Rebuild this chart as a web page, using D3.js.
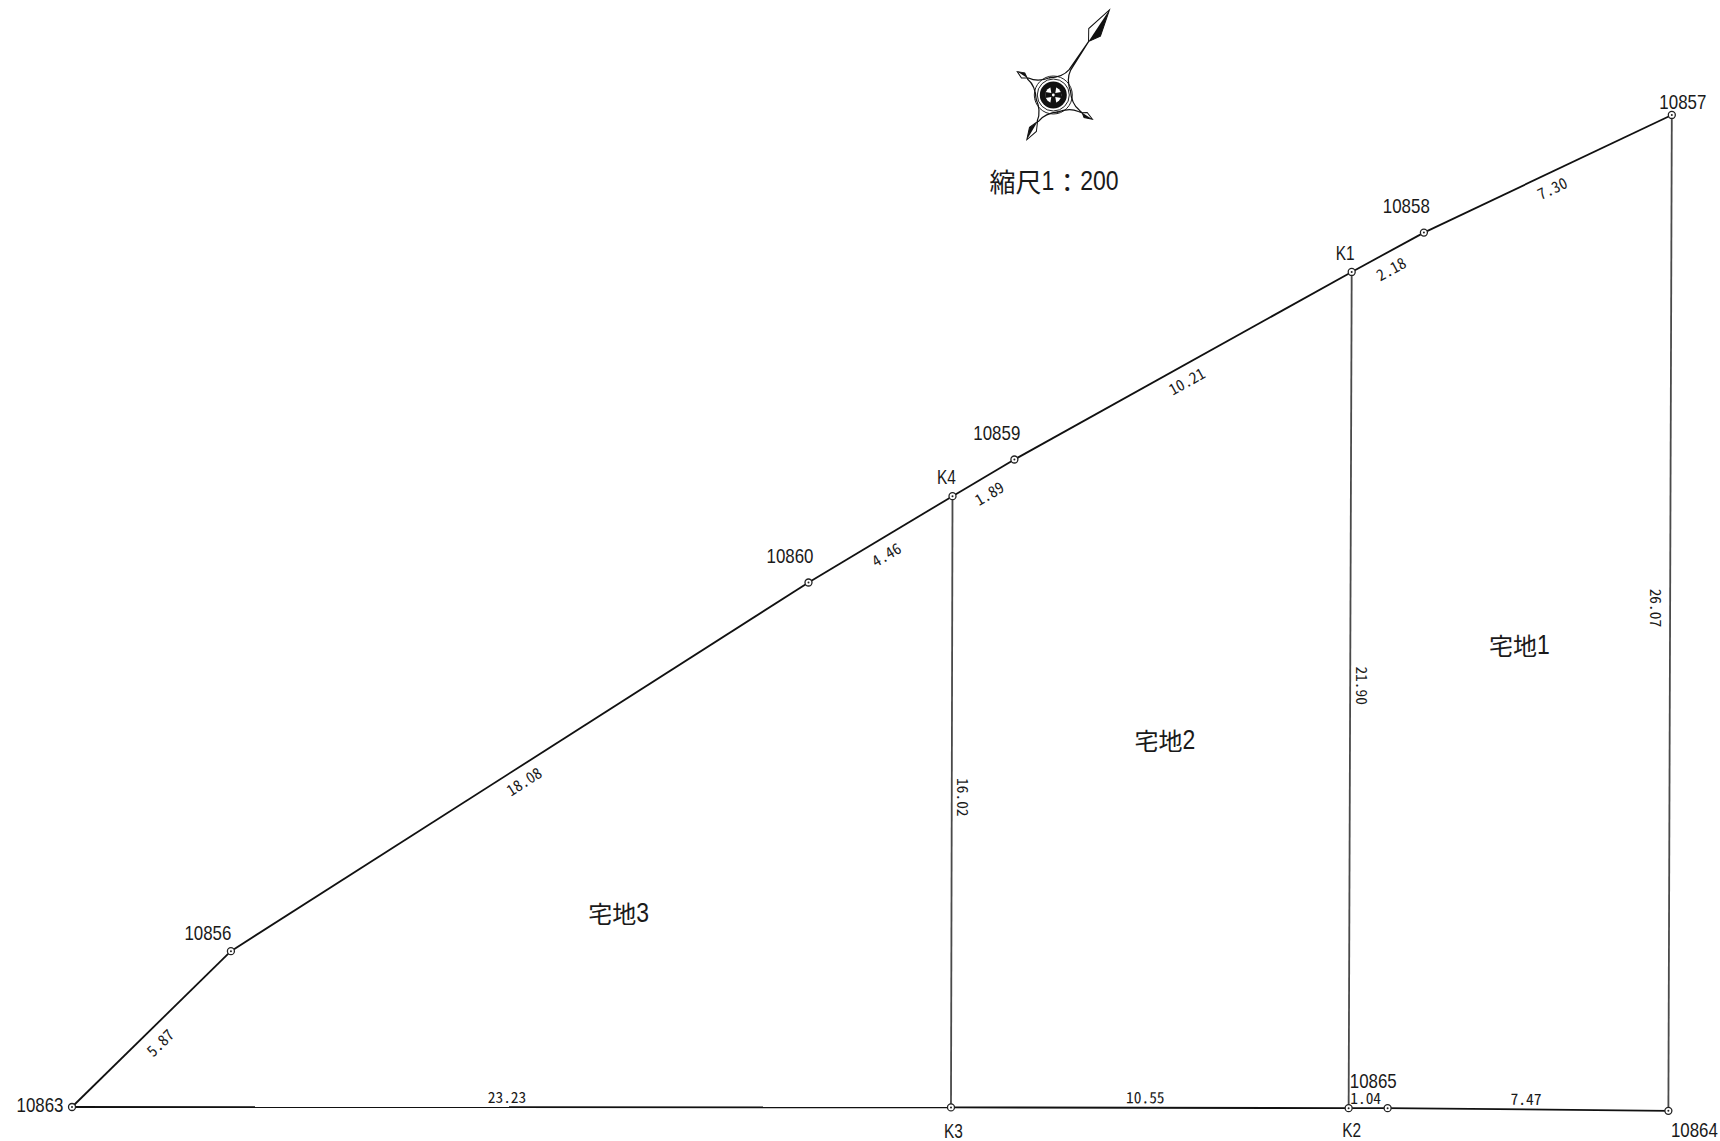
<!DOCTYPE html>
<html lang="ja">
<head>
<meta charset="utf-8">
<title>縮尺1:200</title>
<script src="https://cdn.jsdelivr.net/npm/d3@7"></script>
<style>
  html, body { margin: 0; background: #fff; }
  svg { display: block; }
  text {
    fill: #1a1a1a;
    text-anchor: middle;
    dominant-baseline: central;
  }
  .len { font-family: "Noto Sans CJK JP", sans-serif; font-feature-settings: "hwid"; }
  .pt, .digit { font-family: "Liberation Sans", sans-serif; }
  .kanji { font-family: "Noto Sans CJK JP", sans-serif; }
</style>
</head>
<body>
<div id="chart"></div>
<script>
// survey points, metres from point 10863
const pointNames = ["10863", "10856", "10860", "K4", "10859", "K1", "10858", "10857", "10864", "10865", "K2", "K3"];
const pointEast = [0, 4.16, 19.28, 23.05, 24.67, 33.50, 35.39, 41.88, 41.79, 34.44, 33.42, 23.01];
const pointNorth = [0, 4.08, 13.73, 15.99, 16.95, 21.86, 22.89, 25.97, -0.10, -0.03, -0.03, -0.01];

// boundary segments and the lengths written on them
const segFrom = ["10863", "10856", "10860", "K4", "10859", "K1", "10858", "10857", "K1", "K4", "10863", "K3", "K2", "10865"];
const segTo = ["10856", "10860", "K4", "10859", "K1", "10858", "10857", "10864", "K2", "K3", "K3", "K2", "10865", "10864"];
const segLength = ["5.87", "18.08", "4.46", "1.89", "10.21", "2.18", "7.30", "26.07", "21.90", "16.02", "23.23", "10.55", "1.04", "7.47"];

// parcels
const parcelNames = ["宅地1", "宅地2", "宅地3"];
const parcelEast = [37.89, 28.61, 14.31];
const parcelNorth = [12.09, 9.62, 5.09];

const scaleText = "縮尺1：200";

// layout, px
const width = 1720, height = 1141;
const pxPerMetre = 38.2;
const left = 72, base = 1107;

// label offsets from point, px
const pointLabelOffset = {
  "10863": [-32, -2], "10856": [-23, -18], "10860": [-18.5, -26.5], "K4": [-6, -19],
  "10859": [-17.6, -26.4], "K1": [-6.5, -18.6], "10858": [-17.6, -26.5], "10857": [11, -13],
  "10864": [26, 18.6], "10865": [-14.4, -27.3], "K2": [3, 22], "K3": [2.4, 23.5]
};
// length label offsets from the segment middle, px (same order as segLength)
const lengthLabelOffset = [[9, 14], [4.5, 15], [6, 15.6], [6, 16], [4, 16], [3.5, 17], [4.5, 15],
  [-14.5, -5], [11.5, -4.4], [11, -4.5], [-4.5, -10], [-4.5, -10], [-2.5, -10], [-2, -10]];

const x = d3.scaleLinear().domain([0, 40]).range([left, left + 40 * pxPerMetre]);
const y = d3.scaleLinear().domain([0, 25]).range([base, base - 25 * pxPerMetre]);

const px = name => x(pointEast[pointNames.indexOf(name)]);
const py = name => y(pointNorth[pointNames.indexOf(name)]);

const svg = d3.select("#chart").append("svg")
  .attr("width", width)
  .attr("height", height);

// segments
const segments = segFrom.map((from, i) => ({ from, to: segTo[i], len: segLength[i], off: lengthLabelOffset[i] }));
const isVertical = d => Math.abs(px(d.from) - px(d.to)) < 10;

svg.append("g").selectAll("line")
  .data(segments)
  .enter().append("line")
  .attr("x1", d => px(d.from))
  .attr("y1", d => py(d.from))
  .attr("x2", d => px(d.to))
  .attr("y2", d => py(d.to))
  .attr("stroke", d => isVertical(d) ? "#4a4a4a" : "#111")
  .attr("stroke-width", 1.8);

// length labels, turned along their segment
svg.append("g").selectAll("text")
  .data(segments)
  .enter().append("text")
  .attr("class", "len")
  .attr("font-size", 15.4)
  .attr("dy", -1.6)
  .attr("transform", d => {
    const cx = (px(d.from) + px(d.to)) / 2 + d.off[0];
    const cy = (py(d.from) + py(d.to)) / 2 + d.off[1];
    const a = Math.atan2(py(d.to) - py(d.from), px(d.to) - px(d.from)) * 180 / Math.PI;
    const turn = a > 90 ? 90 : a; // reads downwards on the verticals
    return `translate(${cx},${cy}) rotate(${turn})`;
  })
  .text(d => d.len);

// survey points
svg.append("g").selectAll("g")
  .data(pointNames)
  .enter().append("g")
  .attr("transform", d => `translate(${px(d)},${py(d)})`)
  .each(function() {
    d3.select(this).append("circle").attr("r", 3.5).attr("fill", "#fff").attr("stroke", "#222").attr("stroke-width", 1.3);
    d3.select(this).append("circle").attr("r", 1).attr("fill", "#222");
  });

// point names, squeezed to the half-width look of the drawing
svg.append("g").selectAll("text")
  .data(pointNames)
  .enter().append("text")
  .attr("class", "pt")
  .attr("font-size", 20.6)
  .attr("transform", d => {
    const squeeze = d.startsWith("K") ? 0.75 : 0.82;
    return `translate(${px(d) + pointLabelOffset[d][0]},${py(d) + pointLabelOffset[d][1]}) scale(${squeeze},1)`;
  })
  .text(d => d);

// kanji and digits come from different fonts
function mixedText(sel, kanjiSize, digitSize) {
  sel.each(function(d) {
    const t = d3.select(this);
    d.match(/[0-9]+|[^0-9]+/g).forEach(part => {
      const isDigit = /^[0-9]/.test(part);
      const span = t.append("tspan")
        .attr("class", isDigit ? "digit" : "kanji")
        .attr("font-size", isDigit ? digitSize : kanjiSize)
        .text(part);
      if (isDigit) span.attr("textLength", part.length * 12.8).attr("lengthAdjust", "spacingAndGlyphs");
    });
  });
}

// parcel names
svg.append("g").selectAll("text")
  .data(parcelNames)
  .enter().append("text")
  .attr("x", (d, i) => x(parcelEast[i]))
  .attr("y", (d, i) => y(parcelNorth[i]) - 1)
  .call(mixedText, 24, 28);

svg.append("g").selectAll("text")
  .data([scaleText])
  .enter().append("text")
  .attr("x", 1054)
  .attr("y", 180)
  .call(mixedText, 26, 28);

// north mark: four arms round a ringed centre
const compass = svg.append("g").attr("transform", "translate(1053.3,95)");
const armAngle = [-56.6, -147, 31.7, 120.6];   // degrees
const armLength = [102, 43, 46, 52];
const armHead = [[64, 75, 7], [31, 36, 3], [34, 38, 3], [31, 40, 4]]; // neck, widest, half width

compass.append("circle").attr("r", 19).attr("fill", "#fff").attr("stroke", "#222").attr("stroke-width", 1);
compass.append("circle").attr("r", 16).attr("fill", "none").attr("stroke", "#222").attr("stroke-width", 1);
compass.append("circle").attr("r", 13.5).attr("fill", "#111");
compass.append("circle").attr("r", 8).attr("fill", "#fff");
compass.append("path")
  .attr("d", "M-3,-8L3,-8L2,-2L8,-3L8,3L2,2L3,8L-3,8L-2,2L-8,3L-8,-3L-2,-2Z")
  .attr("fill", "#111");
compass.append("circle").attr("r", 1.4).attr("fill", "#fff");

armAngle.forEach((a, i) => {
  const arm = compass.append("g").attr("transform", `rotate(${a})`);
  const len = armLength[i], [neck, wide, half] = armHead[i];
  arm.append("path")
    .attr("d", `M12,-13Q20,-2 30,-0.8L${neck},0L30,0.8Q20,2 12,13`)
    .attr("fill", "none").attr("stroke", "#111").attr("stroke-width", 1.2);
  arm.append("path")
    .attr("d", `M${neck},0L${wide},${-half}L${len},0L${wide},${half}Z`)
    .attr("fill", "#fff").attr("stroke", "#111").attr("stroke-width", 1);
  arm.append("path")
    .attr("d", `M${neck},0L${wide},${half}L${len},0Z`)
    .attr("fill", "#111");
});
</script>
</body>
</html>
